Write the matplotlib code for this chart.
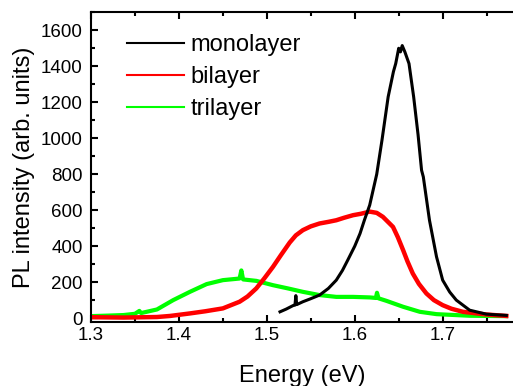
import numpy as np
import matplotlib
matplotlib.use('Agg')
import matplotlib.pyplot as plt
from matplotlib.ticker import MultipleLocator

# PL spectra (energy in eV, intensity in arb. units)
mono_e = [1.515, 1.522, 1.530, 1.532, 1.533, 1.534, 1.541, 1.550, 1.560, 1.570,
          1.579, 1.586, 1.592, 1.600, 1.606, 1.611, 1.617, 1.625, 1.631, 1.638,
          1.644, 1.6466, 1.650, 1.652, 1.654, 1.657, 1.6617, 1.667, 1.672, 1.676,
          1.678, 1.685, 1.693, 1.700, 1.708, 1.7155, 1.7307, 1.7496, 1.7724]
mono_i = [35, 50, 70, 72, 125, 75, 91, 108, 128, 165,
          211, 265, 322, 400, 470, 545, 628, 800, 990, 1230,
          1370, 1415, 1500, 1480, 1515, 1480, 1415, 1230, 1020, 822,
          785, 544, 341, 211, 145, 100, 44, 22, 15]

bi_e = [1.300, 1.337, 1.375, 1.390, 1.4125, 1.430, 1.450, 1.469, 1.478, 1.488,
        1.497, 1.507, 1.516, 1.526, 1.533, 1.541, 1.550, 1.560, 1.570, 1.579,
        1.588, 1.598, 1.607, 1.617, 1.625, 1.632, 1.6435, 1.649, 1.655, 1.660,
        1.666, 1.673, 1.6815, 1.690, 1.700, 1.710, 1.723, 1.7496, 1.7724]
bi_i = [5, 3, 6, 12, 26, 38, 54, 91, 120, 165,
        220, 285, 350, 420, 460, 489, 510, 526, 535, 544,
        558, 572, 580, 592, 585, 563, 507, 450, 378, 315,
        248, 190, 137, 100, 72, 52, 35, 20, 12]

tri_e = [1.300, 1.320, 1.337, 1.350, 1.355, 1.357, 1.375, 1.3935, 1.4125, 1.4315,
         1.450, 1.469, 1.471, 1.473, 1.488, 1.507, 1.524, 1.541, 1.560, 1.579,
         1.598, 1.617, 1.624, 1.6253, 1.627, 1.636, 1.655, 1.674, 1.693, 1.7307,
         1.772]
tri_i = [11, 14, 17, 24, 40, 28, 48, 100, 146, 189,
         211, 220, 265, 215, 207, 183, 165, 146, 128, 118,
         118, 115, 112, 141, 110, 96, 63, 35, 22, 13,
         11]

labels = ['monolayer', 'bilayer', 'trilayer']
colors = ['#000000', '#ff0000', '#00ff00']

plt.rcParams['font.family'] = ['Liberation Sans', 'DejaVu Sans']
plt.rcParams['axes.linewidth'] = 1.5

fig = plt.figure(figsize=(5.13, 3.86), dpi=100)
ax = fig.add_axes([91/513, (386-321.7)/386, 422/513, 309.4/386])

ax.plot(tri_e, tri_i, color=colors[2], lw=3.0, label=labels[2])
ax.plot(bi_e, bi_i, color=colors[1], lw=3.2, label=labels[1])
ax.plot(mono_e, mono_i, color=colors[0], lw=2.2, label=labels[0])

ax.set_xlim(1.3, 1.78)
ax.set_ylim(-20, 1700)
ax.xaxis.set_major_locator(MultipleLocator(0.1))
ax.xaxis.set_minor_locator(MultipleLocator(0.05))
ax.yaxis.set_major_locator(MultipleLocator(200))
ax.yaxis.set_minor_locator(MultipleLocator(100))
ax.tick_params(which='both', direction='in', top=True, right=False, width=1.5)
ax.tick_params(which='major', length=5, labelsize=13.5)
ax.tick_params(axis='x', which='major', pad=4)
ax.tick_params(axis='y', which='major', pad=6)
ax.tick_params(which='minor', length=3)
ax.spines['right'].set_visible(False)

ax.set_xlabel('Energy (eV)', fontsize=17, labelpad=15)
ax.set_ylabel('PL intensity (arb. units)', fontsize=17, labelpad=4)

handles, labs = ax.get_legend_handles_labels()
leg = ax.legend(handles[::-1], labs[::-1], loc='upper left', bbox_to_anchor=(0.085, 0.93),
                frameon=False, fontsize=17, handlelength=2.4, handletextpad=0.3,
                labelspacing=0.43, borderpad=0, borderaxespad=0)
for ln in leg.get_lines():
    ln.set_linewidth(1.5)

fig.savefig('out.png', dpi=100)
